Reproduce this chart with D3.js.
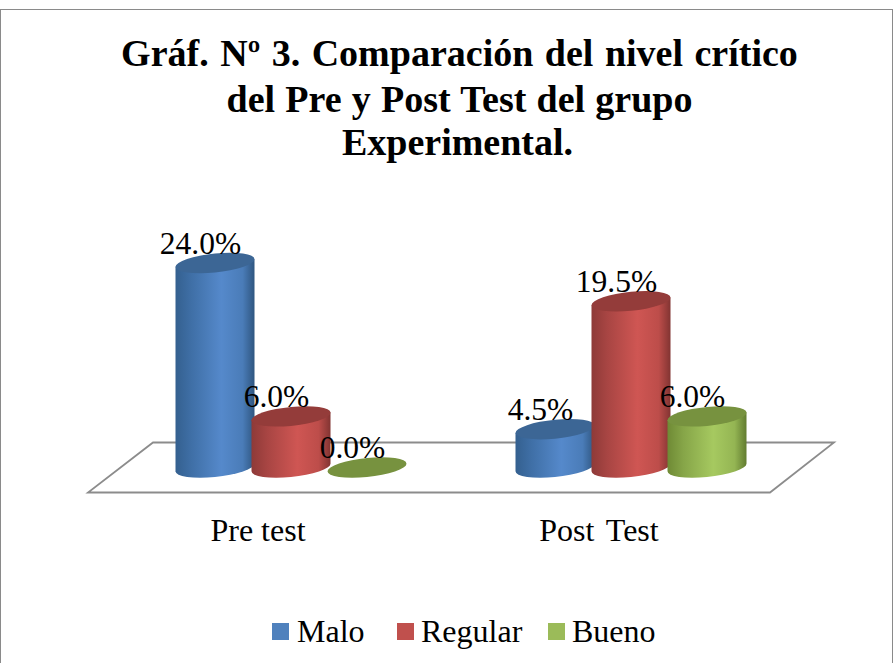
<!DOCTYPE html>
<html><head><meta charset="utf-8">
<script src="https://cdn.jsdelivr.net/npm/d3@7"></script>
<style>html,body{margin:0;padding:0;background:#fff}svg{display:block}text{font-family:"Liberation Serif",serif;fill:#000}</style>
</head><body><svg id="c" width="893" height="663"></svg>
<script>
const titleLines=["Gráf. Nº 3. Comparación del nivel crítico","del Pre y Post Test del grupo","Experimental."];
const categories=["Pre test","Post Test"];
const seriesNames=["Malo","Regular","Bueno"];
const malo=[24.0,4.5];
const regular=[6.0,19.5];
const bueno=[0.0,6.0];
const seriesValues=[malo,regular,bueno];
const sideColors=[["#34608f","#3f6fa6","#5589cb","#4a7cb8","#2f5680"],["#8e3a38","#a84543","#cf5653","#bd4d4a","#823432"],["#6f8a35","#86a548","#a6c960","#94b553","#627c30"]];
const topColors=["#3c6695","#943c3a","#77923f"];
const legendColors=["#4f81bd","#c0504d","#9bbb59"];

const svg=d3.select("#c");
const defs=svg.append("defs");
sideColors.forEach((c,i)=>{
  const g=defs.append("linearGradient").attr("id","g"+i);
  [0,.2,.58,.85,1].forEach((o,k)=>g.append("stop").attr("offset",o).attr("stop-color",c[k]));
});
svg.append("rect").attr("x",.5).attr("y",9.5).attr("width",892).attr("height",660).attr("fill","#fff").attr("stroke","#8a8a8a").attr("stroke-width",1);

svg.append("g").selectAll("text").data(titleLines).join("text")
 .attr("x",(d,i)=>[459.5,459.5,457.5][i]).attr("y",(d,i)=>[66,112,155][i]).attr("text-anchor","middle")
 .attr("font-size",38).attr("font-weight","bold").attr("word-spacing",(d,i)=>[2.0,0.7,0][i]).text(d=>d);

const floorBack=442.5, floorFront=492.5;
svg.append("polygon").attr("points",[[153,floorBack],[834,floorBack],[770,floorFront],[88,floorFront]].join(" "))
 .attr("fill","#fff").attr("stroke","#8c8c8c").attr("stroke-width",1.8);

const x0=d3.scaleBand().domain(categories).range([121,801]);
const x1=d3.scaleBand().domain(seriesNames).range([-114,114]);
const y=d3.scaleLinear().domain([0,24]).range([467.5,263]);
const rx=39.5, ry=9.5;
const cxOf=(c,s)=>x0(c)+x0.bandwidth()/2+x1(s)+x1.bandwidth()/2;

function cyl(g,cx,v,i){
  const yT=y(v), yB=y(0);
  const t=g.append("g").attr("transform",`translate(${cx},0) skewY(-5.5) translate(${-cx},0)`);
  if(v>0){
    t.append("path").attr("d",`M${cx-rx},${yT}L${cx-rx},${yB}A${rx},${ry} 0 0 0 ${cx+rx},${yB}L${cx+rx},${yT}Z`).attr("fill",`url(#g${i})`);
  }
  t.append("ellipse").attr("cx",cx).attr("cy",yT).attr("rx",rx).attr("ry",ry).attr("fill",topColors[i]);
}
categories.forEach((c,ci)=>{
  const g=svg.append("g");
  seriesNames.forEach((s,si)=>cyl(g,cxOf(c,s),seriesValues[si][ci],si));
});
categories.forEach((c,ci)=>{
  seriesNames.forEach((s,si)=>{
    const v=seriesValues[si][ci];
    svg.append("text").attr("x",cxOf(c,s)-14.5).attr("y",y(v)-9.5).attr("text-anchor","middle").attr("font-size",31.5).text(v.toFixed(1)+"%");
  });
  svg.append("text").attr("x",[258,599][ci]).attr("y",541).attr("text-anchor","middle").attr("font-size",32).attr("word-spacing",[0,4][ci]).text(c);
});
const lx=[272,397,548], tx=[297,421,572];
seriesNames.forEach((s,i)=>{
  svg.append("rect").attr("x",lx[i]).attr("y",623).attr("width",17).attr("height",17).attr("fill",legendColors[i]);
  svg.append("text").attr("x",tx[i]).attr("y",642).attr("font-size",32).text(s);
});
</script></body></html>
